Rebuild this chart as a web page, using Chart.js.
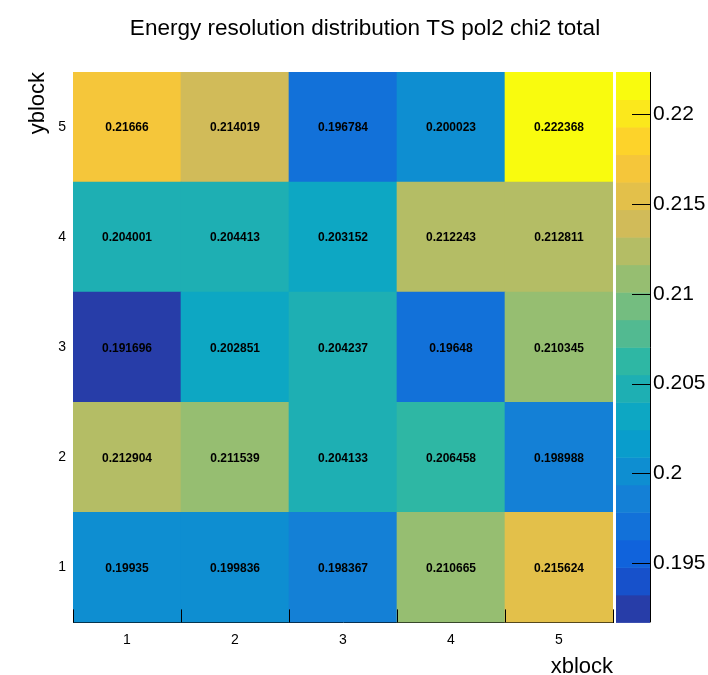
<!DOCTYPE html>
<html>
<head>
<meta charset="utf-8">
<title>Energy resolution distribution</title>
<script src="https://cdn.jsdelivr.net/npm/chart.js@4"></script>
<style>
  html, body { margin: 0; padding: 0; background: #fff; }
  #wrap { width: 708px; height: 675px; }
</style>
</head>
<body>
<div id="wrap"><canvas id="resChart"></canvas></div>
<script>
const xBlocks = ['1', '2', '3', '4', '5'];
const yBlocks = [1, 2, 3, 4, 5];
// resolution per cell, one array per yblock row, indexed by xblock
const row1 = [0.19935, 0.199836, 0.198367, 0.210665, 0.215624];
const row2 = [0.212904, 0.211539, 0.204133, 0.206458, 0.198988];
const row3 = [0.191696, 0.202851, 0.204237, 0.19648, 0.210345];
const row4 = [0.204001, 0.204413, 0.203152, 0.212243, 0.212811];
const row5 = [0.21666, 0.214019, 0.196784, 0.200023, 0.222368];
const rows = [row1, row2, row3, row4, row5];
const zTicks = [0.195, 0.2, 0.205, 0.21, 0.215, 0.22];
const nContours = 20;

const allValues = rows.flat();
const zMin = Math.min(...allValues);
const zMax = Math.max(...allValues);

// "bird" palette stops
const birdStops = [0.0, 0.125, 0.25, 0.375, 0.5, 0.625, 0.75, 0.875, 1.0];
const birdR = [0.2082, 0.0592, 0.0780, 0.0232, 0.1802, 0.5301, 0.8186, 0.9956, 0.9764];
const birdG = [0.1664, 0.3599, 0.5041, 0.6419, 0.7178, 0.7492, 0.7328, 0.7862, 0.9832];
const birdB = [0.5293, 0.8684, 0.8385, 0.7914, 0.6425, 0.4662, 0.3499, 0.1968, 0.0539];

function bird(t) {
    let k = 1;
    while (k < birdStops.length - 1 && t > birdStops[k]) k++;
    const f = (t - birdStops[k - 1]) / (birdStops[k] - birdStops[k - 1]);
    const mix = arr => Math.round(255 * (arr[k - 1] + f * (arr[k] - arr[k - 1])));
    return 'rgb(' + mix(birdR) + ',' + mix(birdG) + ',' + mix(birdB) + ')';
}

function contourColor(i) {
    const idx = Math.floor((i + 0.99) * 255 / nContours);
    return bird(Math.min(idx, 254) / 254);
}

function valueColor(v) {
    let i = Math.floor(0.01 + (v - zMin) / (zMax - zMin) * nContours);
    i = Math.max(0, Math.min(nContours - 1, i));
    return contourColor(i);
}

// one floating-bar dataset per row, all rows sharing the same x slots
const datasets = rows.map((vals, r) => ({
    label: 'yblock ' + yBlocks[r],
    data: vals.map(() => [yBlocks[r] - 0.5, yBlocks[r] + 0.5]),
    values: vals,
    backgroundColor: vals.map(valueColor),
    borderWidth: 0,
    grouped: false,
    barPercentage: 1.0,
    categoryPercentage: 1.0
}));

const fontFamily = '"Liberation Sans", Arial, Helvetica, sans-serif';
Chart.defaults.font.family = fontFamily;
Chart.defaults.color = '#000';

const heatPlugin = {
    id: 'heatExtras',
    beforeDatasetsDraw(chart) {
        // y tick marks on bin edges, mostly hidden under the cells
        const ctx = chart.ctx;
        const ys = chart.scales.y;
        const area = chart.chartArea;
        ctx.save();
        ctx.strokeStyle = '#000';
        ctx.lineWidth = 1;
        for (let k = 0; k <= yBlocks.length; k++) {
            const py = Math.round(ys.getPixelForValue(k + 0.5)) + 0.5;
            ctx.beginPath();
            ctx.moveTo(area.left, py);
            ctx.lineTo(area.left + 16, py);
            ctx.stroke();
        }
        ctx.restore();
    },
    afterDatasetsDraw(chart) {
        const ctx = chart.ctx;
        ctx.save();
        ctx.font = 'bold 12px ' + fontFamily;
        ctx.fillStyle = '#000';
        ctx.textAlign = 'center';
        ctx.textBaseline = 'middle';
        chart.data.datasets.forEach((ds, d) => {
            chart.getDatasetMeta(d).data.forEach((el, i) => {
                const c = el.getCenterPoint();
                ctx.fillText(String(ds.values[i]), c.x, c.y + 1);
            });
        });
        ctx.restore();
    },
    afterDraw(chart) {
        const ctx = chart.ctx;
        const xs = chart.scales.x;
        const z = chart.scales.z;
        const area = chart.chartArea;
        ctx.save();

        // x tick marks on bin edges
        ctx.strokeStyle = '#000';
        ctx.lineWidth = 1;
        for (let k = 0; k <= xBlocks.length; k++) {
            const px = Math.round(xs.getPixelForValue(k - 0.5)) + 0.5;
            ctx.beginPath();
            ctx.moveTo(px, area.bottom);
            ctx.lineTo(px, area.bottom - 13);
            ctx.stroke();
        }

        // colour bar
        const barL = area.right + 3, barR = area.right + 37;
        const step = (zMax - zMin) / nContours;
        for (let i = 0; i < nContours; i++) {
            const y0 = z.getPixelForValue(zMin + i * step);
            const y1 = z.getPixelForValue(zMin + (i + 1) * step);
            ctx.fillStyle = contourColor(i);
            ctx.fillRect(barL, y1, barR - barL, y0 - y1 + 0.5);
        }
        ctx.beginPath();
        ctx.moveTo(barR + 0.5, z.top);
        ctx.lineTo(barR + 0.5, z.bottom);
        ctx.stroke();
        zTicks.forEach(v => {
            const py = Math.round(z.getPixelForValue(v)) + 0.5;
            ctx.beginPath();
            ctx.moveTo(barR, py);
            ctx.lineTo(barR - 18, py);
            ctx.stroke();
        });

        // title
        ctx.fillStyle = '#000';
        ctx.font = '22.5px ' + fontFamily;
        ctx.textAlign = 'center';
        ctx.textBaseline = 'middle';
        ctx.fillText('Energy resolution distribution TS pol2 chi2 total', 365, 29);
        ctx.restore();
    }
};

new Chart(document.getElementById('resChart'), {
    type: 'bar',
    data: {
        labels: xBlocks,
        datasets: datasets
    },
    options: {
        responsive: true,
        maintainAspectRatio: false,
        animation: false,
        layout: { padding: { top: 72, left: 0, right: 0, bottom: 0 } },
        plugins: {
            legend: { display: false },
            tooltip: { enabled: false },
            title: { display: false }
        },
        scales: {
            x: {
                offset: true,
                grid: { display: false, drawTicks: false },
                border: { display: true, color: '#000', width: 1 },
                ticks: { padding: 9, font: { size: 14 }, color: '#000' },
                title: {
                    display: true,
                    text: 'xblock',
                    align: 'end',
                    font: { size: 22 },
                    padding: { top: 0, bottom: -8 }
                },
                afterFit: s => { s.height = 50; }
            },
            y: {
                min: 0.5,
                max: 5.5,
                grid: { display: false, drawTicks: false },
                border: { display: true, color: '#000', width: 1 },
                ticks: { padding: 7, font: { size: 14 }, color: '#000' },
                afterBuildTicks: s => { s.ticks = yBlocks.map(v => ({ value: v })); },
                title: {
                    display: true,
                    text: 'yblock',
                    align: 'end',
                    font: { size: 22 },
                    padding: { top: 25, bottom: 0 }
                },
                afterFit: s => { s.width = 73; }
            },
            z: {
                axis: 'y',
                position: 'right',
                min: zMin,
                max: zMax,
                grid: { display: false, drawTicks: false },
                border: { display: false },
                ticks: {
                    padding: 40,
                    font: { size: 21 },
                    color: '#000',
                    callback: v => String(+v.toFixed(3))
                },
                afterBuildTicks: s => { s.ticks = zTicks.map(v => ({ value: v })); },
                afterFit: s => { s.width = 95; }
            }
        }
    },
    plugins: [heatPlugin]
});
</script>
</body>
</html>
